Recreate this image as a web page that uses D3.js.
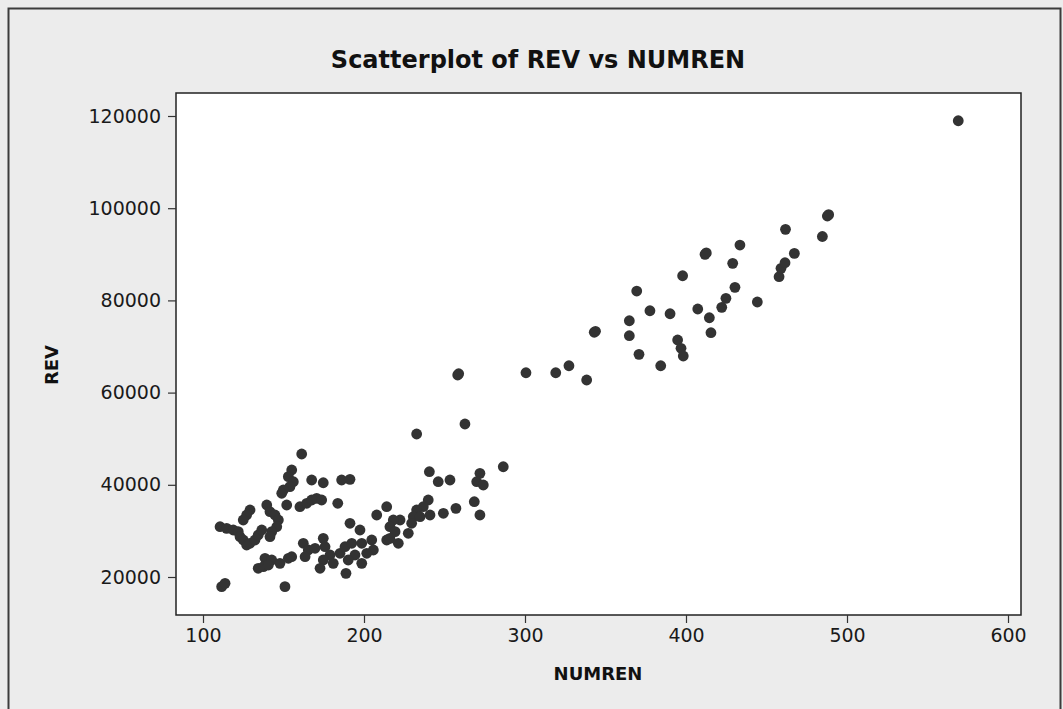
<!DOCTYPE html>
<html>
<head>
<meta charset="utf-8">
<script src="https://cdn.jsdelivr.net/npm/d3@7/dist/d3.min.js"></script>
<style>
  html, body { margin: 0; padding: 0; background: #ececec; }
  svg { display: block; }
</style>
</head>
<body>
<svg id="chart" width="1063" height="709"></svg>
<script>
const title = "Scatterplot of REV vs NUMREN";
const xLabel = "NUMREN";
const yLabel = "REV";
const xTicks = [100, 200, 300, 400, 500, 600];
const yTicks = [20000, 40000, 60000, 80000, 100000, 120000];

const numren = [
  111.6, 113.7, 150.9, 110.6, 114.7, 118.8, 121.9, 123.0, 125.0, 127.1,
  129.2, 132.3, 134.3, 136.5, 129.2, 127.1, 125.0, 139.6, 141.6, 144.7,
  146.8, 145.8, 142.7, 141.6, 138.5, 142.7, 147.8, 153.0, 134.3, 137.5,
  140.6, 161.3, 155.1, 153.0, 156.1, 154.0, 149.9, 148.9, 152.0, 167.5,
  174.7, 186.1, 191.3, 160.2, 164.4, 167.5, 170.6, 173.7, 183.7, 191.3,
  207.9, 214.1, 197.5, 204.8, 205.8, 198.6, 201.7, 214.1, 162.3, 165.4,
  163.4, 169.6, 174.7, 175.8, 178.9, 174.7, 172.7, 180.9, 185.1, 188.2,
  192.4, 194.4, 190.2, 198.6, 188.8, 155.1, 232.7, 262.7, 240.6, 246.1,
  253.4, 272.0, 270.0, 274.1, 286.5, 268.5, 272.0, 257.1, 249.3, 239.9,
  236.8, 232.7, 230.6, 234.8, 241.0, 229.6, 227.5, 222.4, 218.2, 216.1,
  219.3, 216.1, 221.3, 258.2, 258.8, 300.6, 319.1, 327.3, 338.3, 343.0,
  343.8, 364.8, 364.8, 369.4, 370.8, 377.6, 384.3, 390.1, 394.8, 396.9,
  398.3, 397.9, 407.3, 411.8, 412.6, 414.5, 415.5, 422.2, 424.8, 429.0,
  430.4, 433.5, 444.3, 457.8, 459.0, 461.5, 461.8, 467.3, 484.7, 487.8,
  488.6, 569.1
];
const rev = [
  17900, 18630, 17900, 30910, 30560, 30190, 29830, 28740, 28030, 26940,
  27310, 28030, 29110, 30190, 34530, 33450, 32360, 35620, 34160, 33450,
  32360, 30910, 29830, 28740, 24060, 23690, 22970, 24060, 21890, 22230,
  22600, 46680, 43210, 41760, 40670, 39590, 38870, 38160, 35620, 41040,
  40450, 41040, 41190, 35250, 35990, 36700, 37070, 36700, 35990, 31650,
  33450, 35250, 30190, 28030, 25860, 27310, 25140, 28030, 27310, 25860,
  24400, 26230, 28390, 26570, 24770, 23690, 21890, 22970, 25140, 26570,
  27310, 24770, 23690, 22970, 20800, 24400, 51020, 53190, 42840, 40670,
  41040, 42490, 40670, 39960, 43920, 36330, 33450, 34900, 33820, 36700,
  35250, 34530, 33080, 33080, 33450, 31650, 29480, 32360, 32360, 30910,
  29830, 28390, 27310, 63810, 64100, 64310, 64310, 65830, 62730, 73080,
  73300, 75590, 72340, 82030, 68300, 77760, 65830, 77110, 71410, 69610,
  67940, 85350, 78130, 89990, 90300, 76240, 72990, 78500, 80450, 88040,
  82840, 92010, 79650, 85140, 86960, 88170, 95420, 90210, 93860, 98300,
  98600, 118970
];

const W = 1063, H = 709;
const plot = { left: 176, right: 1021, top: 93, bottom: 615 };
const svg = d3.select("#chart");
const FONT = "'DejaVu Sans', Verdana, sans-serif";

// outer frame
svg.append("rect").attr("x", 0).attr("y", 0).attr("width", W).attr("height", H).attr("fill", "#ececec");
svg.append("rect")
  .attr("x", 8.5).attr("y", 8.5).attr("width", 1052).attr("height", 720)
  .attr("fill", "none").attr("stroke", "#3c3c3c").attr("stroke-width", 2);

const x = d3.scaleLinear().domain([83.23, 608.07]).range([plot.left, plot.right]);
const y = d3.scaleLinear().domain([11757, 124990]).range([plot.bottom, plot.top]);

// plot area
svg.append("rect")
  .attr("x", plot.left).attr("y", plot.top)
  .attr("width", plot.right - plot.left).attr("height", plot.bottom - plot.top)
  .attr("fill", "#ffffff").attr("stroke", "#222").attr("stroke-width", 1.5);

// axes
const xAxis = svg.append("g")
  .attr("transform", `translate(0,${plot.bottom})`)
  .call(d3.axisBottom(x).tickValues(xTicks).tickSize(8).tickPadding(6).tickFormat(d3.format("d")));
const yAxis = svg.append("g")
  .attr("transform", `translate(${plot.left},0)`)
  .call(d3.axisLeft(y).tickValues(yTicks).tickSize(8).tickPadding(7).tickFormat(d3.format("d")));
[xAxis, yAxis].forEach(g => {
  g.select(".domain").remove();
  g.selectAll(".tick line").attr("stroke", "#333").attr("stroke-width", 1.2);
  g.selectAll(".tick text").attr("fill", "#1a1a1a").style("font-family", FONT).style("font-size", "19px");
});

// points
svg.append("g").selectAll("circle")
  .data(numren.map((n, i) => [n, rev[i]]))
  .join("circle")
  .attr("cx", d => x(d[0]))
  .attr("cy", d => y(d[1]))
  .attr("r", 5.4)
  .attr("fill", "#333333");

// titles
svg.append("text")
  .attr("x", 538).attr("y", 68)
  .attr("text-anchor", "middle")
  .style("font-family", FONT).style("font-weight", "bold").style("font-size", "24px")
  .attr("fill", "#111")
  .text(title);
svg.append("text")
  .attr("x", 598).attr("y", 680)
  .attr("text-anchor", "middle")
  .style("font-family", FONT).style("font-weight", "bold").style("font-size", "18px")
  .attr("fill", "#111")
  .text(xLabel);
svg.append("text")
  .attr("transform", "translate(58,365) rotate(-90)")
  .attr("text-anchor", "middle")
  .style("font-family", FONT).style("font-weight", "bold").style("font-size", "18px")
  .attr("fill", "#111")
  .text(yLabel);
</script>
</body>
</html>
